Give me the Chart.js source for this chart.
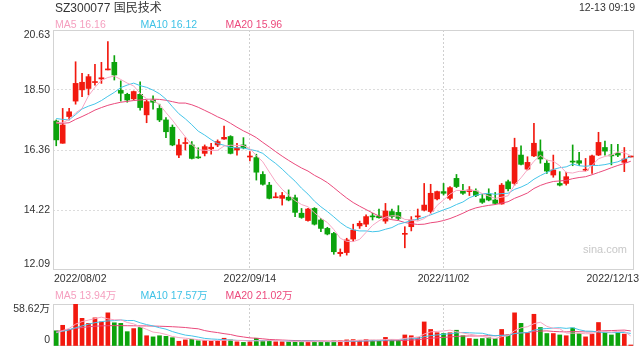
<!DOCTYPE html>
<html>
<head>
<meta charset="utf-8">
<script src="https://cdn.jsdelivr.net/npm/chart.js@4.4.0/dist/chart.umd.min.js"></script>
<style>
  html, body { margin: 0; padding: 0; background: #fff; }
  #wrap { position: relative; width: 640px; height: 360px; overflow: hidden;
          font-family: Arial, "Liberation Sans", "Noto Sans CJK SC", sans-serif; }
  .t { position: absolute; white-space: nowrap; font-size: 10.5px; line-height: 12px; }
  #priceChart { position: absolute; left: 0; top: 0; }
  #volChart { position: absolute; left: 0; top: 290px; }
</style>
</head>
<body>
<div id="wrap">
  <canvas id="priceChart" width="640" height="290"></canvas>
  <canvas id="volChart" width="640" height="70"></canvas>
  <div class="t" style="left:55px;top:1px;font-size:12px;line-height:14px;color:#333">SZ300077 国民技术</div>
  <div class="t" style="right:5px;top:1px;color:#333">12-13 09:19</div>
  <div class="t" style="left:55px;top:17.5px;color:#f59fbf">MA5 16.16</div>
  <div class="t" style="left:140.5px;top:17.5px;color:#3fc2e6">MA10 16.12</div>
  <div class="t" style="left:225.5px;top:17.5px;color:#ec4a7d">MA20 15.96</div>
  <div class="t" style="left:55px;top:288.5px;color:#f59fbf">MA5 13.94万</div>
  <div class="t" style="left:140.5px;top:288.5px;color:#3fc2e6">MA10 17.57万</div>
  <div class="t" style="left:225.5px;top:288.5px;color:#ec4a7d">MA20 21.02万</div>
  <div class="t" style="left:583px;top:242px;font-size:11px;line-height:14px;color:#c8c8c8">sina.com</div>
</div>
<script>
// trading days shown on the chart
const dates = [
  '2022/08/02','2022/08/03','2022/08/04','2022/08/05','2022/08/08','2022/08/09','2022/08/10','2022/08/11','2022/08/12','2022/08/15',
  '2022/08/16','2022/08/17','2022/08/18','2022/08/19','2022/08/22','2022/08/23','2022/08/24','2022/08/25','2022/08/26','2022/08/29',
  '2022/08/30','2022/08/31','2022/09/01','2022/09/02','2022/09/05','2022/09/06','2022/09/07','2022/09/08','2022/09/09','2022/09/13',
  '2022/09/14','2022/09/15','2022/09/16','2022/09/19','2022/09/20','2022/09/21','2022/09/22','2022/09/23','2022/09/26','2022/09/27',
  '2022/09/28','2022/09/29','2022/09/30','2022/10/10','2022/10/11','2022/10/12','2022/10/13','2022/10/14','2022/10/17','2022/10/18',
  '2022/10/19','2022/10/20','2022/10/21','2022/10/24','2022/10/25','2022/10/26','2022/10/27','2022/10/28','2022/10/31','2022/11/01',
  '2022/11/02','2022/11/03','2022/11/04','2022/11/07','2022/11/08','2022/11/09','2022/11/10','2022/11/11','2022/11/14','2022/11/15',
  '2022/11/16','2022/11/17','2022/11/18','2022/11/21','2022/11/22','2022/11/23','2022/11/24','2022/11/25','2022/11/28','2022/11/29',
  '2022/11/30','2022/12/01','2022/12/02','2022/12/05','2022/12/06','2022/12/07','2022/12/08','2022/12/09','2022/12/12','2022/12/13'
];
const axisDates = ['2022/08/02', '2022/09/14', '2022/11/02', '2022/12/13'];
const priceTicks = [12.09, 14.22, 16.36, 18.50, 20.63];
const volTicks = [0, 58.62];

const opens = [17.39,16.60,17.55,18.10,18.50,18.55,18.76,18.89,19.21,19.48, 18.48,18.34,18.18,18.34,17.61,18.14,17.84,17.43,17.17,16.18,
  16.59,16.54,16.10,16.24,16.40,16.54,16.75,16.84,16.36,16.54, 16.11,16.09,15.49,15.11,14.66,14.64,14.68,14.66,14.11,13.85,
  14.28,13.87,13.57,13.39,12.67,12.71,13.19,13.66,13.72,14.00, 14.01,13.83,14.17,14.14,13.36,13.63,13.98,14.22,14.17,14.62,
  14.88,14.64,15.35,14.90,14.88,14.90,14.62,14.78,14.58,14.44, 15.23,15.17,16.18,15.68,16.15,16.30,15.89,15.47,15.17,15.17,
  15.96,15.98,15.64,15.83,16.18,16.45,16.18,16.24,15.92,16.11];
const closes = [16.72,17.25,17.72,18.73,18.77,18.97,18.78,18.93,19.23,19.03, 18.38,18.14,18.44,17.87,18.08,18.06,17.43,17.01,16.54,16.54,
  16.61,16.06,16.08,16.48,16.46,16.66,16.81,16.24,16.44,16.44, 16.13,15.57,15.14,14.64,14.69,14.74,14.58,14.14,13.96,14.26,
  13.72,13.57,13.37,12.74,12.72,13.16,13.51,13.75,13.99,13.98, 13.95,14.19,13.99,13.93,13.38,13.87,14.00,14.40,14.82,14.88,
  14.82,15.02,15.06,14.82,14.94,14.74,14.50,14.58,14.46,15.11, 14.98,16.45,15.85,15.92,16.60,16.04,15.61,15.65,15.11,15.41,
  15.93,15.89,15.66,16.15,16.63,16.32,16.15,16.18,16.04,16.11];
const highs = [17.43,17.84,17.84,19.50,19.09,19.05,19.41,19.48,20.22,19.72, 18.82,18.38,18.46,18.79,18.14,18.29,17.99,17.51,17.25,16.74,
  16.80,16.66,16.44,16.54,16.60,16.72,17.21,16.87,16.60,16.80, 16.30,16.21,15.59,15.21,14.84,14.85,14.94,14.76,14.28,14.28,
  14.31,13.93,13.61,13.43,12.84,13.22,13.72,13.83,14.05,14.11, 14.26,14.46,14.26,14.38,13.63,13.99,14.26,15.17,15.14,14.90,
  15.17,15.06,15.49,15.14,15.06,14.98,14.78,14.98,14.85,15.17, 15.29,16.78,16.51,16.12,17.31,16.72,16.00,16.18,15.59,15.57,
  16.54,16.28,16.06,16.18,16.99,16.68,16.56,16.56,16.45,16.11];
const lows = [16.51,16.60,17.43,17.99,18.26,18.32,18.67,18.73,19.21,18.85, 18.10,18.06,18.14,17.78,17.33,17.81,17.37,16.80,16.51,16.09,
  16.36,16.04,16.06,16.15,16.21,16.48,16.74,16.22,16.18,16.40, 15.97,15.29,15.11,14.62,14.66,14.40,14.55,13.99,13.93,13.83,
  13.69,13.45,13.34,12.65,12.58,12.62,13.10,13.57,13.63,13.87, 13.93,13.75,13.93,13.87,12.88,13.48,13.87,14.19,14.11,14.58,
  14.76,14.58,15.02,14.78,14.74,14.70,14.46,14.55,14.43,14.43, 14.90,15.11,15.83,15.65,16.12,15.89,15.53,15.39,15.08,15.11,
  15.80,15.80,15.61,15.53,16.16,16.18,15.83,16.12,15.59,16.11];

const ma5 = [17.35,17.33,17.45,17.68,17.84,18.29,18.59,18.84,18.94,18.99, 18.87,18.74,18.64,18.37,18.18,18.12,17.98,17.69,17.42,17.12,
  16.83,16.55,16.37,16.35,16.34,16.35,16.50,16.53,16.52,16.52, 16.41,16.16,15.94,15.58,15.23,14.96,14.76,14.56,14.42,14.34,
  14.13,13.93,13.78,13.53,13.22,13.11,13.10,13.18,13.43,13.68, 13.84,13.97,14.02,14.01,13.89,13.87,13.83,13.92,14.09,14.39,
  14.58,14.79,14.92,14.92,14.93,14.92,14.81,14.72,14.64,14.68, 14.73,15.12,15.37,15.66,15.96,16.17,16.00,15.96,15.80,15.56,
  15.54,15.60,15.60,15.81,16.05,16.13,16.18,16.29,16.26,16.16];
const ma10 = [17.48,17.45,17.43,17.62,17.82,17.92,18.00,18.12,18.27,18.41, 18.58,18.67,18.74,18.65,18.59,18.49,18.36,18.17,17.90,17.65,
  17.47,17.26,17.03,16.89,16.73,16.59,16.53,16.45,16.44,16.43, 16.38,16.33,16.24,16.05,15.88,15.68,15.46,15.25,15.00,14.79,
  14.54,14.34,14.17,13.98,13.78,13.62,13.52,13.48,13.48,13.45, 13.47,13.54,13.60,13.72,13.78,13.85,13.90,13.97,14.05,14.14,
  14.23,14.31,14.42,14.51,14.66,14.75,14.80,14.82,14.78,14.81, 14.82,14.96,15.04,15.15,15.32,15.45,15.56,15.67,15.73,15.76,
  15.86,15.80,15.78,15.81,15.81,15.84,15.89,15.94,16.04,16.12];
const ma20 = [17.31,17.31,17.33,17.45,17.55,17.66,17.78,17.87,17.95,18.01, 18.06,18.09,18.12,18.14,18.16,18.17,18.16,18.13,18.08,18.03,
  18.03,17.97,17.88,17.77,17.66,17.54,17.44,17.31,17.17,17.04, 16.93,16.80,16.63,16.47,16.30,16.14,15.99,15.85,15.72,15.61,
  15.46,15.34,15.20,15.02,14.83,14.65,14.49,14.36,14.24,14.12, 14.01,13.94,13.88,13.85,13.78,13.74,13.71,13.72,13.77,13.80,
  13.85,13.92,14.01,14.11,14.22,14.30,14.35,14.39,14.42,14.47, 14.52,14.64,14.73,14.83,14.99,15.10,15.18,15.24,15.26,15.28,
  15.34,15.38,15.41,15.48,15.56,15.64,15.73,15.81,15.88,15.96];

// volume in 万 (10k shares)
const volumes = [21.2,28.9,23.1,58.62,38.6,31.6,39.3,33.6,46.3,32.4, 31.6,20.0,24.3,25.8,14.3,12.7,14.3,13.5,11.6,6.6,
  8.5,9.3,7.3,7.7,6.6,7.3,10.8,8.5,5.8,5.0, 5.8,10.8,7.7,8.1,5.8,5.8,5.8,6.2,6.2,6.2,
  6.0,6.0,5.5,7.0,7.0,8.5,8.9,8.0,9.0,8.0, 8.0,12.0,9.0,8.0,15.4,14.3,12.3,33.6,23.1,18.5,
  17.4,18.5,22.0,14.3,10.4,9.6,10.4,11.6,10.4,23.1, 15.4,46.3,31.6,18.1,44.3,25.8,17.4,17.4,15.4,14.3,
  25.1,17.4,12.7,16.6,32.8,19.3,15.4,18.5,16.6,0.3];
const volMa5 = [18.5,21.5,24.5,30.5,34.1,36.2,38.2,40.3,37.9,36.6, 36.6,32.8,30.9,26.8,23.2,19.4,18.3,16.1,13.3,11.7,
  10.9,9.9,8.7,7.9,7.9,7.6,7.9,8.2,7.8,7.5, 7.2,7.2,7.0,7.5,7.6,7.6,6.6,6.3,6.0,6.0,
  6.1,6.1,6.0,6.1,6.3,6.8,7.4,7.9,8.3,8.5, 8.4,9.0,9.2,9.0,10.5,11.7,11.8,16.7,19.7,20.4,
  21.0,22.2,19.9,18.1,16.5,15.0,13.3,11.3,10.5,13.0, 14.2,21.4,25.4,26.9,31.1,33.2,27.4,24.6,24.1,18.1,
  17.9,17.9,17.0,17.2,20.9,19.8,19.4,20.5,20.5,13.94];
const volMa10 = [19.3,20.5,22.5,25.5,28.0,30.5,32.5,34.0,35.0,35.4, 36.4,35.5,35.6,32.4,29.9,28.0,25.5,23.5,20.1,17.5,
  15.2,14.1,12.4,10.6,9.8,9.3,8.9,8.4,7.8,7.7, 7.4,7.6,7.6,7.6,7.6,7.4,6.9,6.7,6.7,6.8,
  6.9,6.4,6.2,6.1,6.2,6.4,6.8,6.9,7.2,7.4, 7.6,8.2,8.5,8.6,9.5,10.1,10.4,13.0,14.4,15.4,
  16.4,17.0,18.3,18.9,18.4,18.0,17.8,15.6,14.3,14.8, 14.6,17.4,18.3,18.7,22.1,23.7,24.4,25.0,25.5,24.6,
  25.6,22.7,20.8,20.6,19.5,18.8,18.6,18.8,18.9,17.57];
const volMa20 = [20.4,21.5,22.8,24.5,25.8,26.8,27.6,28.1,28.3,28.4, 28.4,28.3,28.2,28.1,28.0,27.8,27.6,27.3,26.9,26.4,
  25.8,24.8,24.0,21.5,19.9,18.7,17.2,16.0,13.9,12.6, 11.3,10.8,10.0,9.1,8.7,8.3,7.9,7.6,7.3,7.3,
  7.1,7.0,6.9,6.8,6.9,6.9,6.8,6.8,7.0,7.1, 7.2,7.3,7.4,7.3,7.8,8.3,8.6,9.9,10.8,11.4,
  12.0,12.6,13.4,13.8,14.0,14.0,14.1,14.3,14.3,15.1, 15.5,17.2,18.3,18.8,20.3,20.8,21.1,20.3,19.9,19.7,
  20.1,20.0,19.6,19.7,20.8,21.3,21.5,21.9,22.2,21.02];

const UP = '#f2190f';
const DOWN = '#0ca30c';
const GRID = '#d3d3d3';
const FONT = 'Arial, "Liberation Sans", "Noto Sans CJK SC", sans-serif';
const candleColors = opens.map((o, i) => closes[i] >= o ? UP : DOWN);
const markIdx = axisDates.slice(1, -1).map(d => dates.indexOf(d));

Chart.defaults.font.family = FONT;
Chart.defaults.font.size = 10.5;
Chart.defaults.color = '#333';

const frame = {
  id: 'frame',
  beforeDatasetsDraw(chart) {
    const { ctx, chartArea: a } = chart;
    ctx.save();
    ctx.strokeStyle = GRID;
    ctx.lineWidth = 1;
    const l = Math.round(a.left) + 0.5, t = Math.round(a.top) + 0.5;
    ctx.strokeRect(l, t, Math.round(a.right) - 1 - l + 0.5, Math.round(a.bottom) - 1 - t + 0.5);
    ctx.restore();
  }
};

const dateLabels = {
  id: 'dateLabels',
  afterDraw(chart) {
    const { ctx, chartArea: a, scales: { x } } = chart;
    ctx.save();
    ctx.font = '10.5px ' + FONT;
    ctx.fillStyle = '#333';
    ctx.textBaseline = 'top';
    axisDates.forEach((d, k) => {
      let px = x.getPixelForValue(dates.indexOf(d));
      if (k === 0) { ctx.textAlign = 'left'; px = a.left + 1; }
      else if (k === axisDates.length - 1) { ctx.textAlign = 'right'; px = 639; }
      else ctx.textAlign = 'center';
      ctx.fillText(d, px, a.bottom + 4);
    });
    ctx.restore();
  }
};

const maLine = (label, data, color) => ({
  type: 'line', label, data, borderColor: color, borderWidth: 1,
  pointRadius: 0, tension: 0, order: 0
});

const xScale = (height) => ({
  offset: true,
  afterFit: s => { s.height = height; },
  ticks: { display: false, autoSkip: false },
  grid: { offset: false, drawTicks: false, color: c => markIdx.includes(c.index) ? '#cfcfcf' : 'transparent' },
  border: { display: false, dash: [2, 2] }
});

// the end labels get a blank line so they sit inside the frame
const yScale = (ticks, fmt) => ({
  min: ticks[0], max: ticks[ticks.length - 1],
  afterBuildTicks: s => { s.ticks = ticks.map(v => ({ value: v })); },
  afterFit: s => { s.width = 53; },
  grid: { drawTicks: false, color: c => (c.index === 0 || c.index === ticks.length - 1) ? 'transparent' : '#dcdcdc' },
  border: { display: false, dash: [2, 2] },
  ticks: {
    autoSkip: false,
    padding: 3, color: '#333', font: { size: 10.5, lineHeight: 1.05 },
    callback: (v, i) => {
      const s = fmt(v);
      if (i === 0) return [s, ''];
      if (i === ticks.length - 1) return ['', s];
      return s;
    }
  }
});

new Chart(document.getElementById('priceChart'), {
  type: 'bar',
  data: {
    labels: dates,
    datasets: [
      maLine('MA5', ma5, '#f7a6c3'),
      maLine('MA10', ma10, '#45c5e9'),
      maLine('MA20', ma20, '#ea4a7c'),
      {
        label: 'body', data: opens.map((o, i) => [o, closes[i]]),
        backgroundColor: candleColors, barThickness: 5, minBarLength: 1, grouped: false, order: 1
      },
      {
        label: 'wick', data: lows.map((l, i) => [l, highs[i]]),
        backgroundColor: candleColors, barThickness: 1, minBarLength: 1, grouped: false, order: 2
      }
    ]
  },
  options: {
    responsive: false,
    animation: false,
    events: [],
    layout: { padding: { top: 30, right: 6, bottom: 0, left: 0 } },
    plugins: { legend: { display: false }, tooltip: { enabled: false } },
    scales: {
      x: xScale(20),
      y: yScale(priceTicks, v => Number(v).toFixed(2))
    }
  },
  plugins: [frame, dateLabels]
});

new Chart(document.getElementById('volChart'), {
  type: 'bar',
  data: {
    labels: dates,
    datasets: [
      maLine('MA5', volMa5, '#f7a6c3'),
      maLine('MA10', volMa10, '#45c5e9'),
      maLine('MA20', volMa20, '#ea4a7c'),
      {
        label: 'volume', data: volumes,
        backgroundColor: candleColors, barThickness: 4, minBarLength: 1, grouped: false, order: 1
      }
    ]
  },
  options: {
    responsive: false,
    animation: false,
    events: [],
    layout: { padding: { top: 13, right: 6, bottom: 5, left: 0 } },
    plugins: { legend: { display: false }, tooltip: { enabled: false } },
    scales: {
      x: xScale(0),
      y: yScale(volTicks, v => v === 0 ? '0' : Number(v).toFixed(2) + '万')
    }
  },
  plugins: [frame]
});
</script>
</body>
</html>
